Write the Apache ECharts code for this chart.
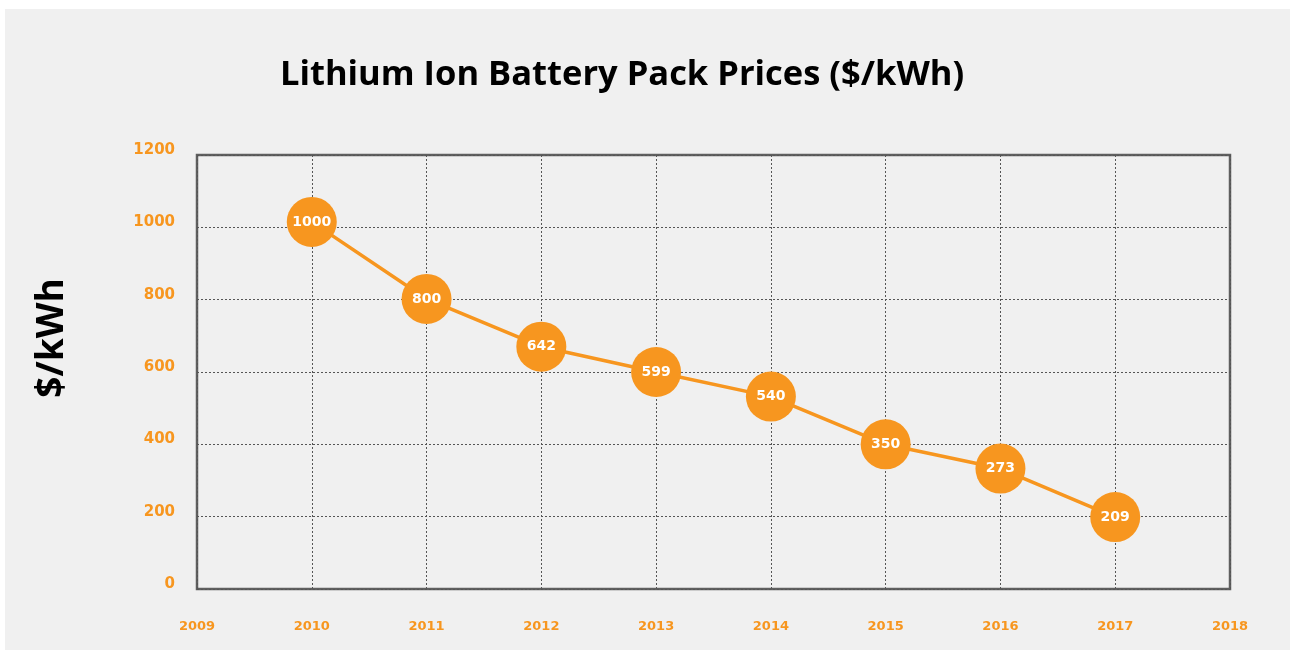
<!DOCTYPE html>
<html lang="en">
<head>
    <meta charset="UTF-8">
    <title>Lithium Ion Battery Pack Prices</title>
    <script src="https://cdn.jsdelivr.net/npm/echarts@6/dist/echarts.min.js"></script>
    <style>
        html, body {
            margin: 0;
            padding: 0;
            background: #ffffff;
        }
        #panel {
            position: absolute;
            left: 5px;
            top: 9px;
            width: 1285px;
            height: 641px;
            background: #f0f0f0;
        }
        #chart {
            position: absolute;
            left: 0;
            top: 0;
            width: 1290px;
            height: 656px;
        }
    </style>
</head>
<body>
<div id="panel"></div>
<div id="chart"></div>
<script>
    // years on the x axis
    const years = [2010, 2011, 2012, 2013, 2014, 2015, 2016, 2017];
    // where each bubble sits on the y axis
    const plotted = [1015, 802, 670, 600, 532, 400, 333, 199];
    // the number printed in each bubble
    const bubbleLabels = ['1000', '800', '642', '599', '540', '350', '273', '209'];

    const orange = '#f7961f';
    const labelFont = 'DejaVu Sans';

    let myChart = echarts.init(document.getElementById('chart'));

    let seriesData = [];
    years.forEach((y, i) => {
        seriesData.push([y, plotted[i]]);
    });

    let option = {
        backgroundColor: 'transparent',
        title: {
            text: 'Lithium Ion Battery Pack Prices ($/kWh)',
            left: 617,
            textAlign: 'center',
            top: 53,
            textStyle: {
                fontFamily: 'Open Sans',
                fontWeight: 'bold',
                fontSize: 34.5,
                color: '#000'
            }
        },
        // y axis title, placed by hand so it sits above the middle like the original
        graphic: [
            {
                type: 'text',
                x: 52,
                y: 338,
                rotation: Math.PI / 2,
                style: {
                    text: '$/kWh',
                    fontFamily: 'Open Sans',
                    fontWeight: 'bold',
                    fontSize: 37,
                    fill: '#000',
                    textAlign: 'center',
                    textVerticalAlign: 'middle'
                }
            }
        ],
        grid: {
            show: true,
            left: 197,
            top: 155,
            right: 60,
            bottom: 67,
            borderColor: '#5f5f5f',
            borderWidth: 2.5,
            backgroundColor: 'transparent'
        },
        xAxis: {
            type: 'value',
            min: 2009,
            max: 2018,
            interval: 1,
            axisLine: {show: false},
            axisTick: {show: false},
            splitLine: {
                show: true,
                lineStyle: {color: '#555', type: [2, 2], width: 1}
            },
            axisLabel: {
                margin: 31,
                color: orange,
                fontFamily: labelFont,
                fontWeight: 'bold',
                fontSize: 13,
                formatter: v => String(v)
            }
        },
        yAxis: {
            type: 'value',
            min: 0,
            max: 1200,
            interval: 200,
            axisLine: {show: false},
            axisTick: {show: false},
            splitLine: {
                show: true,
                lineStyle: {color: '#555', type: [2, 2], width: 1}
            },
            axisLabel: {
                margin: 22,
                color: orange,
                fontFamily: labelFont,
                fontWeight: 'bold',
                fontSize: 15,
                verticalAlign: 'bottom',
                lineHeight: 10,
                formatter: v => String(v)
            }
        },
        series: [
            {
                type: 'line',
                data: seriesData,
                symbol: 'circle',
                symbolSize: 50,
                lineStyle: {color: orange, width: 3.5},
                itemStyle: {color: orange},
                label: {
                    show: true,
                    position: 'inside',
                    color: '#fff',
                    fontFamily: labelFont,
                    fontWeight: 'bold',
                    fontSize: 14,
                    formatter: p => bubbleLabels[p.dataIndex]
                }
            }
        ]
    };

    myChart.setOption(option);
</script>
</body>
</html>
